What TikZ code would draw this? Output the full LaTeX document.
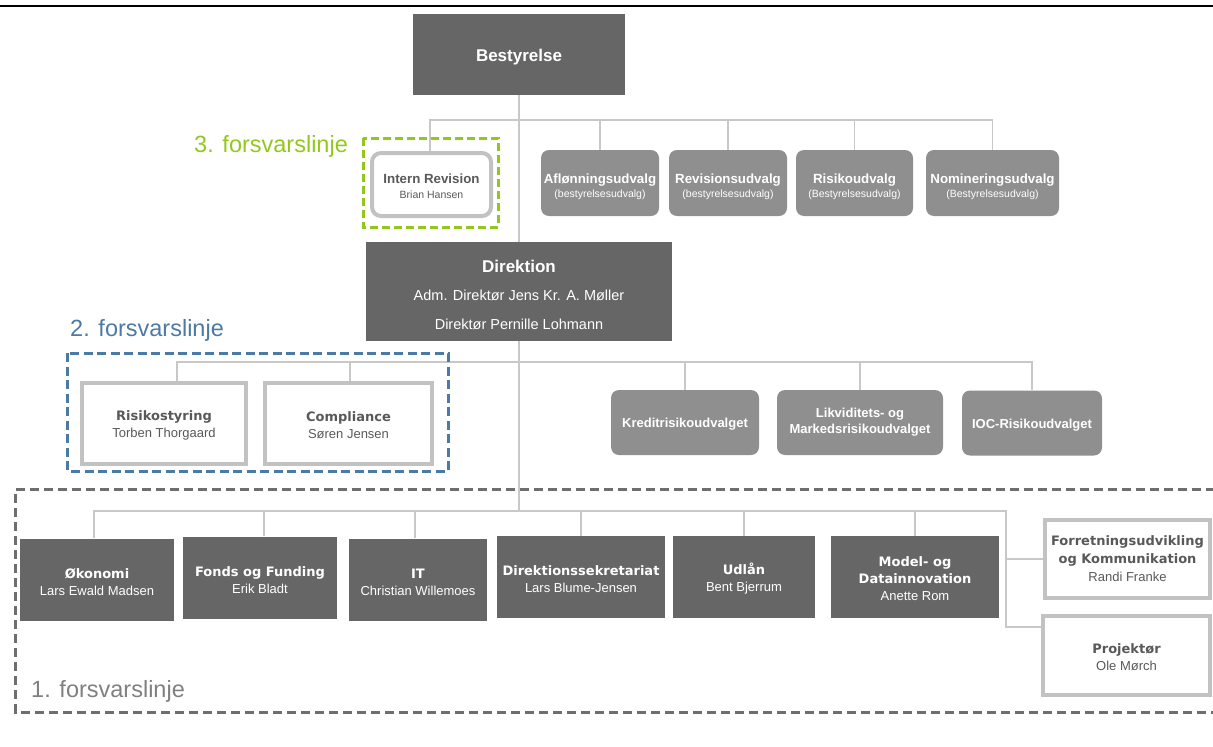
\documentclass[tikz,border=0pt]{standalone}
\usepackage{fontspec}
\setmainfont{Liberation Sans}
\newfontfamily\dv{DejaVu Sans}
\definecolor{darkfill}{HTML}{666666}
\definecolor{midfill}{HTML}{8F8F8F}
\definecolor{connc}{HTML}{C8C8C8}
\definecolor{wborder}{HTML}{C2C2C2}
\definecolor{wtext}{HTML}{595959}
\definecolor{lgreen}{HTML}{92C81E}
\definecolor{lblue}{HTML}{4C7AA6}
\definecolor{lgray}{HTML}{6E6E6E}
\definecolor{ltext}{HTML}{808080}
\tikzset{
  dbox/.style={fill=darkfill, draw=none, text=white, align=center, inner sep=0pt},
  gbox/.style={fill=midfill, draw=none, text=white, align=center, inner sep=0pt, rounded corners=8pt},
  wbox/.style={fill=white, draw=wborder, line width=4pt, text=wtext, align=center, inner sep=0pt},
  conn/.style={draw=connc, line width=1.4pt},
  lbl/.style={font=\fontsize{23.5}{26}\selectfont, inner sep=0pt, anchor=base west},
  udv/.style={gbox, minimum height=66pt, font=\fontsize{10.5}{14.5}\selectfont},
  riskc/.style={gbox, minimum height=65pt, font=\fontsize{13}{16}\selectfont\bfseries},
  bot/.style={dbox, minimum height=82pt, font=\fontsize{13}{17}\selectfont},
  wbot/.style={wbox, font=\fontsize{13}{17}\selectfont}
}
\newcommand{\ttl}[1]{{\dv\bfseries\fontsize{13}{17}\selectfont #1}}
\newcommand{\utl}[1]{{\bfseries\fontsize{13.3}{14.5}\selectfont #1}}
\newcommand{\dn}[1]{\rule{0pt}{#1pt}}
\begin{document}
\begin{tikzpicture}[x=1pt,y=-1pt]
\useasboundingbox (0,0) rectangle (1213,747);
\draw[line width=2pt] (0,6) -- (1213,6);

% coordinates of bars
\coordinate (b1) at (519,120);
\coordinate (b2) at (519,362);
\coordinate (b3) at (519,511);
\coordinate (b3e) at (1006,511);

% nodes
\node[dbox, minimum width=212pt, minimum height=81pt, font=\fontsize{17}{20}\selectfont\bfseries] (best) at (519,54.5) {\dn{18}Bestyrelse};

\node[wbox, draw=wborder, minimum width=119pt, minimum height=63pt, rounded corners=9pt, font=\fontsize{10.5}{15}\selectfont] (intrev) at (431.5,184.5) {\dn{14}\utl{Intern Revision}\\Brian Hansen};

\node[udv, minimum width=118pt] (afl) at (600,183) {\dn{17}\utl{Aflønningsudvalg}\\(bestyrelsesudvalg)};
\node[udv, minimum width=118pt] (rev) at (728,183) {\dn{17}\utl{Revisionsudvalg}\\(bestyrelsesudvalg)};
\node[udv, minimum width=117pt] (ris) at (854.5,183) {\dn{17}\utl{Risikoudvalg}\\(Bestyrelsesudvalg)};
\node[udv, minimum width=133pt] (nom) at (992.5,183) {\dn{17}\utl{Nomineringsudvalg}\\(Bestyrelsesudvalg)};

\node[dbox, minimum width=306pt, minimum height=99pt, font=\fontsize{14.5}{28.5}\selectfont] (dir) at (519,291.5) {\dn{18.5}{\bfseries\fontsize{17}{28.5}\selectfont Direktion}\\Adm. Direktør Jens Kr. A. Møller\\Direktør Pernille Lohmann};

\node[wbot, minimum width=164pt, minimum height=81pt] (risk) at (164,423.5) {\dn{13}\ttl{Risikostyring}\\Torben Thorgaard};
\node[wbot, minimum width=167pt, minimum height=81pt] (comp) at (348.5,423.5) {\dn{13}\ttl{Compliance}\\Søren Jensen};

\node[riskc, minimum width=148pt] (kred) at (685,422.5) {\dn{13.5}Kreditrisikoudvalget};
\node[riskc, minimum width=166pt] (likv) at (860,422.5) {Likviditets- og\\Markedsrisikoudvalget};
\node[riskc, minimum width=140pt] (ioc) at (1032,423) {\dn{13.5}IOC-Risikoudvalget};

\node[bot, minimum width=154pt] (oek) at (97,579.5) {\dn{15}\ttl{Økonomi}\\Lars Ewald Madsen};
\node[bot, minimum width=154pt] (fond) at (260,577.5) {\dn{15}\ttl{Fonds og Funding}\\Erik Bladt};
\node[bot, minimum width=138pt] (it) at (418,579.5) {\dn{15}\ttl{IT}\\Christian Willemoes};
\node[bot, minimum width=168pt] (dsek) at (581,577) {\dn{15}\ttl{Direktionssekretariat}\\Lars Blume-Jensen};
\node[bot, minimum width=142pt] (udl) at (744,577) {\dn{15}\ttl{Udlån}\\Bent Bjerrum};
\node[bot, minimum width=168pt] (mod) at (915,577) {\dn{13}\ttl{Model- og}\\\ttl{Datainnovation}\\Anette Rom};

\node[wbot, minimum width=165pt, minimum height=78pt, font=\fontsize{13}{18}\selectfont] (forr) at (1127.5,559) {\ttl{Forretningsudvikling}\\\ttl{og Kommunikation}\\Randi Franke};
\node[wbot, minimum width=167pt, minimum height=79pt] (proj) at (1126.5,655.5) {\dn{13}\ttl{Projektør}\\Ole Mørch};

% connectors
\draw[conn] (best.south) -- (dir.north);
\draw[conn] ([xshift=-1.5pt]intrev.north) |- (b1) -| (nom.north);
\draw[conn] (afl.north) -- (afl.north |- b1);
\draw[conn] (rev.north) -- (rev.north |- b1);
\draw[conn] (ris.north) -- (ris.north |- b1);

\draw[conn] (dir.south) -- (b3);
\draw[conn] ([xshift=13pt]risk.north) |- (b2) -| (ioc.north);
\draw[conn] ([xshift=1.5pt]comp.north) -- ([xshift=1.5pt]comp.north |- b2);
\draw[conn] (kred.north) -- (kred.north |- b2);
\draw[conn] (likv.north) -- (likv.north |- b2);

\draw[conn] ([xshift=-3pt]oek.north) |- (b3) -- (b3e) |- ([yshift=28.5pt]proj.west);
\draw[conn] ([xshift=4pt]fond.north) -- ([xshift=4pt]fond.north |- b3);
\draw[conn] ([xshift=-3pt]it.north) -- ([xshift=-3pt]it.north |- b3);
\draw[conn] (dsek.north) -- (dsek.north |- b3);
\draw[conn] (udl.north) -- (udl.north |- b3);
\draw[conn] (mod.north) -- (mod.north |- b3);
\draw[conn] (b3e |- forr.west) -- (forr.west);

% defence lines
\draw[lgreen, line width=3pt, dash pattern=on 8pt off 4pt] (363,138) rectangle (498,227);
\node[lbl, text=lgreen] (l3) at (194,152) {3. forsvarslinje};
\draw[lblue, line width=3pt, dash pattern=on 9pt off 4.5pt] (67.5,353) rectangle (448,471);
\node[lbl, text=lblue] (l2) at (70,336) {2. forsvarslinje};
\draw[lgray, line width=3pt, dash pattern=on 9pt off 5pt] (1215,489.5) -- (15.5,489.5) -- (15.5,712.5) -- (1215,712.5);
\node[lbl, text=ltext] (l1) at (31,697) {1. forsvarslinje};
\end{tikzpicture}
\end{document}
